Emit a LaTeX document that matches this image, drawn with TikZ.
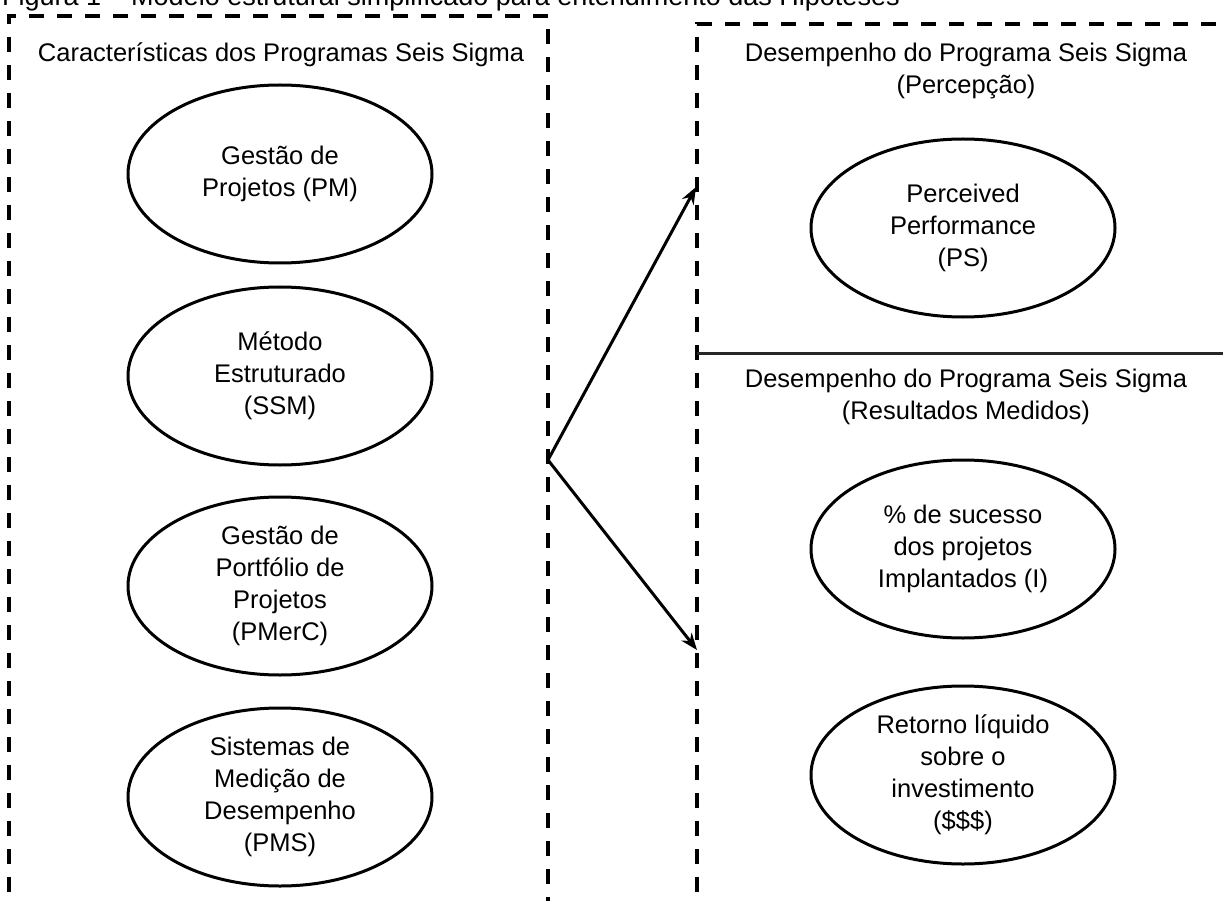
\documentclass[tikz,border=0pt]{standalone}
\usepackage{fontspec}
\setmainfont{Liberation Sans}
\usetikzlibrary{shapes.geometric,arrows.meta}

\begin{document}
\begin{tikzpicture}[x=1pt,y=-1pt,
  txt/.style={font=\fontsize{25.5}{32}\selectfont, align=center, inner sep=0pt},
  oval/.style={txt, draw, ellipse, line width=3pt, minimum width=304pt, minimum height=178pt},
  frame/.style={line width=3.5pt, dash pattern=on 15pt off 13pt},
  divider/.style={line width=3pt, black!85},
  link/.style={line width=3pt, {Stealth[length=17pt,width=13pt]}-{Stealth[length=17pt,width=13pt]}}
]
\useasboundingbox (0,0) rectangle (1223,901);
\clip (0,0) rectangle (1223,901);

% figure caption, cut at the top edge
\node[anchor=base west, inner sep=0pt, font=\fontsize{27}{32}\selectfont] (caption) at (2,6)
  {Figura 1 – Modelo estrutural simplificado para entendimento das Hipóteses};

% left frame: characteristics of the programmes
\draw[frame] (9,920) -- (9,16) -- (548,16) -- (548,920);
\node[txt] (lefthead) at (281,55) {Características dos Programas Seis Sigma};

% right frame: programme performance
\draw[frame] (697,920) -- (697,24) -- (1240,24);
\draw[divider] (697,353) -- (1240,353);
\node[txt] (perchead) at (966,71) {Desempenho do Programa Seis Sigma\\(Percepção)};
\node[txt] (reshead) at (966,397) {Desempenho do Programa Seis Sigma\\(Resultados Medidos)};

% constructs on the left
\node[oval] (pm)    at (280,174) {Gestão de\\Projetos (PM)};
\node[oval] (ssm)   at (280,376) {Método\\Estruturado\\(SSM)};
\node[oval] (pmerc) at (280,586) {Gestão de\\Portfólio de\\Projetos\\(PMerC)};
\node[oval] (pms)   at (280,797) {Sistemas de\\Medição de\\Desempenho\\(PMS)};

% constructs on the right
\node[oval] (ps)  at (963,228) {Perceived\\Performance\\(PS)};
\node[oval] (imp) at (963,549) {\% de sucesso\\dos projetos\\Implantados (I)};
\node[oval] (roi) at (963,775) {Retorno líquido\\sobre o\\investimento\\(\$\$\$)};

% hypotheses: characteristics -> performance
\coordinate (apex)  at (548,460);
\coordinate (tipup) at (696,187);
\coordinate (tipdn) at (697,650);
\draw[link] (tipup) -- (apex) -- (tipdn);
\end{tikzpicture}
\end{document}
